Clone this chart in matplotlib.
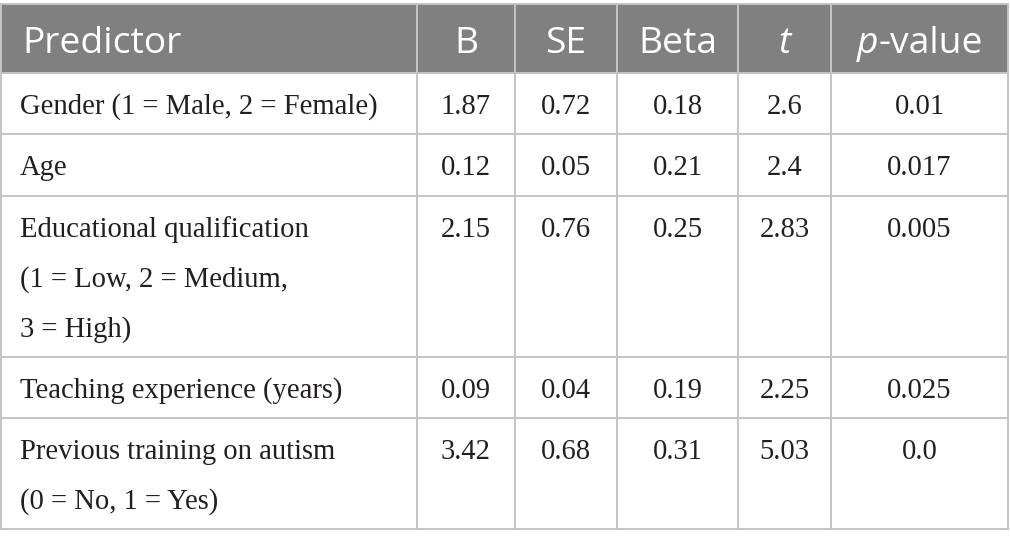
import matplotlib
matplotlib.use("Agg")
import matplotlib.pyplot as plt
from matplotlib.patches import Rectangle

# ---- data ----
columns = ["Predictor", "B", "SE", "Beta", "t", "p-value"]
predictors = [
    ["Gender (1 = Male, 2 = Female)"],
    ["Age"],
    ["Educational qualification", "(1 = Low, 2 = Medium,", "3 = High)"],
    ["Teaching experience (years)"],
    ["Previous training on autism", "(0 = No, 1 = Yes)"],
]
B = ["1.87", "0.12", "2.15", "0.09", "3.42"]
SE = ["0.72", "0.05", "0.76", "0.04", "0.68"]
Beta = ["0.18", "0.21", "0.25", "0.19", "0.31"]
t_vals = ["2.6", "2.4", "2.83", "2.25", "5.03"]
p_vals = ["0.01", "0.017", "0.005", "0.025", "0.0"]

# ---- layout (pixels) ----
W, H = 1010, 548
col_edges = [1, 417, 515, 617, 738, 831, 1008]
header_top, header_bot = 4, 73
row_edges = [73, 134, 196, 357, 418, 529]
line_gap = 50
baseline_off = 41

header_bg = "#808080"
grid_col = "#c4c4c4"
text_col = "#231f20"
body_font = "Liberation Serif"
head_font = "Open Sans"

fig = plt.figure(figsize=(W / 100, H / 100), dpi=100)
ax = fig.add_axes([0, 0, 1, 1])
ax.set_xlim(0, W)
ax.set_ylim(H, 0)
ax.axis("off")

# header background
ax.add_patch(Rectangle((col_edges[0], header_top), col_edges[-1] - col_edges[0],
                       header_bot - header_top, facecolor=header_bg, edgecolor="none", zorder=1))
ax.plot([col_edges[0], col_edges[-1]], [header_top, header_top], color=grid_col, lw=1.4, zorder=3)

# grid lines
for y in row_edges:
    ax.plot([col_edges[0], col_edges[-1]], [y, y], color=grid_col, lw=1.4, zorder=3)
for x in col_edges:
    ax.plot([x, x], [header_top, row_edges[-1]], color=grid_col, lw=1.4, zorder=3)

# header text
head_base = 53
head_fs = 26.8
ax.text(22, head_base, columns[0], fontsize=head_fs, family=head_font, color="white",
        ha="left", va="baseline", zorder=4)
for i, name in enumerate(columns[1:], start=1):
    cx = (col_edges[i] + col_edges[i + 1]) / 2
    if name == "t":
        ax.text(cx, head_base, "t", fontsize=head_fs, family=head_font, style="italic",
                color="white", ha="center", va="baseline", zorder=4)
    elif name == "p-value":
        tp = ax.text(cx, head_base, "p", fontsize=head_fs, family=head_font, style="italic",
                     color="white", ha="left", va="baseline", zorder=4)
        tv = ax.text(cx, head_base, "-value", fontsize=head_fs, family=head_font,
                     color="white", ha="left", va="baseline", zorder=4)
        fig.canvas.draw()
        r = fig.canvas.get_renderer()
        wp = tp.get_window_extent(r).width
        wv = tv.get_window_extent(r).width
        total = wp + wv
        tp.set_x(cx - total / 2)
        tv.set_x(cx - total / 2 + wp + 1)
    else:
        ax.text(cx, head_base, name, fontsize=head_fs, family=head_font, color="white",
                ha="center", va="baseline", zorder=4)

# body
body_fs = 20.6
num_cols = [B, SE, Beta, t_vals, p_vals]
for r_i, lines in enumerate(predictors):
    top = row_edges[r_i]
    for k, line in enumerate(lines):
        ax.text(20, top + baseline_off + k * line_gap, line, fontsize=body_fs, family=body_font,
                color=text_col, ha="left", va="baseline", zorder=4)
    for c_i, col in enumerate(num_cols, start=1):
        cx = (col_edges[c_i] + col_edges[c_i + 1]) / 2
        ax.text(cx, top + baseline_off, col[r_i], fontsize=body_fs, family=body_font,
                color=text_col, ha="center", va="baseline", zorder=4)

fig.savefig("out.png", dpi=100, facecolor="white")
